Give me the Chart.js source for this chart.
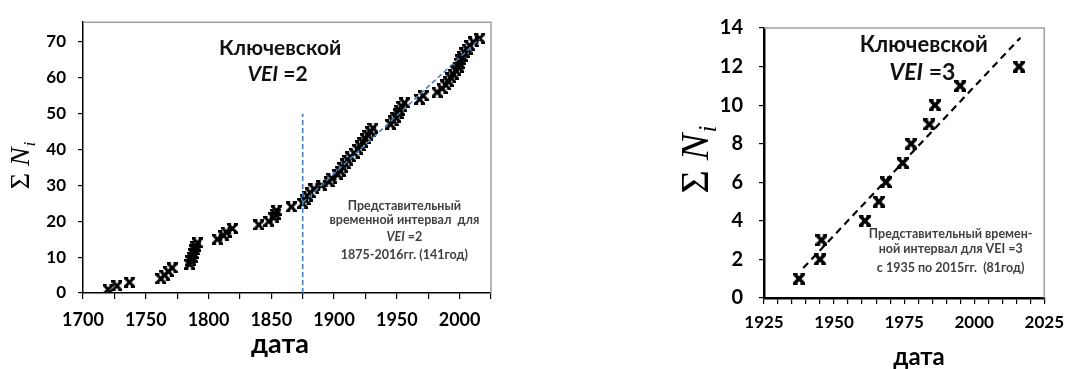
<!DOCTYPE html>
<html>
<head>
<meta charset="utf-8">
<script src="https://cdn.jsdelivr.net/npm/chart.js@4/dist/chart.umd.min.js"></script>
<style>
    html, body { margin: 0; padding: 0; background: #fff; }
    #wrap { position: relative; width: 1072px; height: 369px; overflow: hidden; }
    .box { position: absolute; top: 0; height: 369px; }
</style>
</head>
<body>
<div id="wrap">
    <div class="box" style="left:0;width:540px"><canvas id="vei2Chart"></canvas></div>
    <div class="box" style="left:600px;width:472px"><canvas id="vei3Chart"></canvas></div>
</div>
<script>
/* ===============================
   DATA
=================================*/

// VEI = 2: годы извержений и накопленное число
const vei2Years = [
    1720, 1727, 1737, 1762, 1765, 1768, 1771, 1785, 1786, 1787, 1788, 1789, 1790, 1791,
    1807, 1812, 1814, 1819, 1840, 1848, 1852, 1853, 1854, 1866,
    1875, 1877, 1879, 1881, 1884, 1890, 1896, 1898,
    1903, 1905, 1907, 1909, 1911, 1913, 1916,
    1919, 1921, 1923, 1925, 1927, 1929, 1931,
    1945, 1947, 1949, 1951, 1952, 1954, 1956,
    1968, 1971, 1982, 1986, 1989, 1991, 1993,
    1995, 1997, 1999, 2000, 2001, 2002, 2004, 2006, 2008, 2011, 2016
];
const vei2Counts = [
    1, 2, 3, 4, 5, 6, 7, 8, 9, 10, 11, 12, 13, 14,
    15, 16, 17, 18, 19, 20, 21, 22, 23, 24,
    25, 26, 27, 28, 29, 30, 31, 32,
    33, 34, 35, 36, 37, 38, 39,
    40, 41, 42, 43, 44, 45, 46,
    47, 48, 49, 50, 51, 52, 53,
    54, 55, 56, 57, 58, 59, 60,
    61, 62, 63, 64, 65, 66, 67, 68, 69, 70, 71
];
const vei2TrendYears = [1875, 2016];
const vei2TrendCounts = [25.2, 70.8];
const vei2StartYears = [1875, 1875];
const vei2StartCounts = [0, 50];

// VEI = 3
const vei3Years = [1937.5, 1945, 1945.5, 1961, 1966, 1968.5, 1974.5, 1977.5, 1984, 1986, 1995, 2016];
const vei3Counts = [1, 2, 3, 4, 5, 6, 7, 8, 9, 10, 11, 12];
const vei3TrendYears = [1939, 2016.5];
const vei3TrendCounts = [1.55, 13.5];

/* ===============================
   HELPERS
=================================*/

function toPoints(xs, ys) {
    return xs.map((x, i) => ({ x: x, y: ys[i] }));
}

// X-shaped marker with short bars at the ends
function makeMarker(size, lw) {
    const c = document.createElement("canvas");
    c.width = size;
    c.height = size;
    const g = c.getContext("2d");
    g.strokeStyle = "#000";
    g.lineWidth = lw;
    const a = lw / 2, b = size - lw / 2;
    g.beginPath();
    g.moveTo(a, a); g.lineTo(b, b);
    g.moveTo(b, a); g.lineTo(a, b);
    g.stroke();
    g.lineWidth = lw * 0.8;
    g.beginPath();
    g.moveTo(0, a * 0.8); g.lineTo(size * 0.38, a * 0.8);
    g.moveTo(size * 0.62, a * 0.8); g.lineTo(size, a * 0.8);
    g.moveTo(0, size - a * 0.8); g.lineTo(size * 0.38, size - a * 0.8);
    g.moveTo(size * 0.62, size - a * 0.8); g.lineTo(size, size - a * 0.8);
    g.stroke();
    return c;
}

function drawParts(ctx, parts, cx, baseY, size, color) {
    ctx.save();
    ctx.fillStyle = color;
    ctx.textBaseline = "alphabetic";
    ctx.textAlign = "left";
    const fonts = parts.map(p => `${p.italic ? "italic " : ""}bold ${size}px Lato`);
    let total = 0;
    const widths = parts.map((p, i) => {
        ctx.font = fonts[i];
        const w = ctx.measureText(p.t).width;
        total += w;
        return w;
    });
    let x = cx - total / 2;
    parts.forEach((p, i) => {
        ctx.font = fonts[i];
        ctx.fillText(p.t, x, baseY);
        x += widths[i];
    });
    ctx.restore();
}

function drawSigma(ctx, cx, cy, size) {
    ctx.save();
    ctx.translate(cx, cy);
    ctx.rotate(-Math.PI / 2);
    ctx.fillStyle = "#000";
    ctx.textBaseline = "alphabetic";
    const f1 = `${size}px "Liberation Serif"`;
    const f2 = `italic ${size}px "Liberation Serif"`;
    const f3 = `italic ${Math.round(size * 0.62)}px "Liberation Serif"`;
    ctx.font = f1; const w1 = ctx.measureText("\u03A3 ").width;
    ctx.font = f2; const w2 = ctx.measureText("N").width;
    ctx.font = f3; const w3 = ctx.measureText("i").width;
    let x = -(w1 + w2 + w3) / 2;
    const base = size * 0.33;
    ctx.font = f1; ctx.fillText("\u03A3 ", x, base); x += w1;
    ctx.font = f2; ctx.fillText("N", x, base); x += w2;
    ctx.font = f3; ctx.fillText("i", x + 1, base + size * 0.2);
    ctx.restore();
}

/* ===============================
   PLUGIN: frame, notes, titles
=================================*/

const notesPlugin = {
    id: "notes",
    beforeDatasetsDraw(chart) {
        const { ctx, chartArea: a } = chart;
        ctx.save();
        ctx.strokeStyle = "#a0a0a0";
        ctx.lineWidth = 1.5;
        ctx.beginPath();
        ctx.moveTo(a.left, a.top);
        ctx.lineTo(a.right, a.top);
        ctx.lineTo(a.right, a.bottom);
        ctx.stroke();
        ctx.restore();
    },
    afterDraw(chart, args, opts) {
        const { ctx, scales: { x, y } } = chart;
        (opts.items || []).forEach(it => {
            drawParts(ctx, it.parts, x.getPixelForValue(it.x), y.getPixelForValue(it.y), it.size, it.color);
        });
        if (opts.xTitle) {
            const t = opts.xTitle;
            drawParts(ctx, [{ t: "дата" }], t.x, t.y, t.size, "#000");
        }
        if (opts.sigma) drawSigma(ctx, opts.sigma.x, opts.sigma.y, opts.sigma.size);
    }
};

/* ===============================
   SCALES
=================================*/

function xAxis(min, max, step, labelEvery, fontSize, pad, height, bw) {
    return {
        type: "linear", position: "bottom", min: min, max: max,
        afterFit: s => { s.height = height; },
        border: { color: "#000", width: bw },
        grid: { drawOnChartArea: false, drawTicks: true, tickLength: 6, color: "#000", lineWidth: 1.2 },
        ticks: {
            stepSize: step, autoSkip: false, maxRotation: 0, includeBounds: false,
            padding: pad, color: "#000",
            font: { family: "Lato", size: fontSize, weight: "bold" },
            callback: v => (v % labelEvery === 0 ? String(v) : "")
        }
    };
}

function yAxis(min, max, step, fontSize, pad, width, bw) {
    return {
        type: "linear", min: min, max: max,
        afterFit: s => { s.width = width; },
        border: { color: "#000", width: bw },
        grid: { drawOnChartArea: false, drawTicks: true, tickLength: 5, color: "#000", lineWidth: 1.2 },
        ticks: {
            stepSize: step, includeBounds: false, padding: pad, color: "#000",
            font: { family: "Lato", size: fontSize, weight: "bold" },
            callback: v => String(v)
        }
    };
}

/* ===============================
   VEI = 2 CHART
=================================*/

new Chart(document.getElementById("vei2Chart"), {
    type: "scatter",
    data: {
        datasets: [
            {
                data: toPoints(vei2TrendYears, vei2TrendCounts), showLine: true,
                borderColor: "#4a7ebb", borderWidth: 1.6, borderDash: [5, 3], pointRadius: 0
            },
            {
                data: toPoints(vei2StartYears, vei2StartCounts), showLine: true,
                borderColor: "#4a7ebb", borderWidth: 1.6, borderDash: [5, 3], pointRadius: 0
            },
            {
                data: toPoints(vei2Years, vei2Counts),
                pointStyle: makeMarker(11, 3), pointRadius: 5
            }
        ]
    },
    options: {
        responsive: true, maintainAspectRatio: false, animation: false,
        layout: { padding: { left: 0, top: 17, right: 49, bottom: 0 } },
        scales: {
            x: xAxis(1700, 2025, 25, 50, 18, 10, 76, 1.5),
            y: yAxis(0, 75.5, 10, 17, 12, 83, 1.5)
        },
        plugins: {
            legend: { display: false },
            tooltip: { enabled: false },
            notes: {
                items: [
                    { x: 1857, y: 66.4, size: 21, color: "#111", parts: [{ t: "Ключевской" }] },
                    { x: 1855, y: 59, size: 21, color: "#111", parts: [{ t: "VEI", italic: true }, { t: " =2" }] },
                    { x: 1956, y: 23.2, size: 12.5, color: "#404040", parts: [{ t: "Представительный" }] },
                    { x: 1956, y: 19.1, size: 12.5, color: "#404040", parts: [{ t: "временной интервал  для" }] },
                    { x: 1956, y: 14.5, size: 12.5, color: "#404040", parts: [{ t: "VEI", italic: true }, { t: " =2" }] },
                    { x: 1956, y: 9.6, size: 12.5, color: "#404040", parts: [{ t: "1875-2016гг. (141год)" }] }
                ],
                xTitle: { x: 280, y: 353, size: 27 },
                sigma: { x: 20, y: 166, size: 28 }
            }
        }
    },
    plugins: [notesPlugin]
});

/* ===============================
   VEI = 3 CHART
=================================*/

new Chart(document.getElementById("vei3Chart"), {
    type: "scatter",
    data: {
        datasets: [
            {
                data: toPoints(vei3Years, vei3Counts),
                pointStyle: makeMarker(12, 3.4), pointRadius: 6
            },
            {
                data: toPoints(vei3TrendYears, vei3TrendCounts), showLine: true,
                borderColor: "#000", borderWidth: 2.2, borderDash: [7, 5], pointRadius: 0
            }
        ]
    },
    options: {
        responsive: true, maintainAspectRatio: false, animation: false,
        layout: { padding: { left: 0, top: 20, right: 21, bottom: 0 } },
        scales: {
            x: xAxis(1925, 2025, 5, 25, 17, 8, 71, 2.5),
            y: yAxis(0, 14, 2, 20, 16, 164, 2.5)
        },
        plugins: {
            legend: { display: false },
            tooltip: { enabled: false },
            notes: {
                items: [
                    { x: 1982, y: 12.74, size: 22, color: "#111", parts: [{ t: "Ключевской" }] },
                    { x: 1981.5, y: 11.28, size: 23, color: "#111", parts: [{ t: "VEI", italic: true }, { t: " =3" }] },
                    { x: 1991.6, y: 3.13, size: 12.5, color: "#404040", parts: [{ t: "Представительный времен-" }] },
                    { x: 1991.6, y: 2.33, size: 12.5, color: "#404040", parts: [{ t: "ной интервал для VEI =3" }] },
                    { x: 1991.6, y: 1.37, size: 12.5, color: "#404040", parts: [{ t: "с 1935 по 2015гг.  (81год)" }] }
                ],
                xTitle: { x: 319, y: 365, size: 24 },
                sigma: { x: 95, y: 160, size: 40 }
            }
        }
    },
    plugins: [notesPlugin]
});
</script>
</body>
</html>
